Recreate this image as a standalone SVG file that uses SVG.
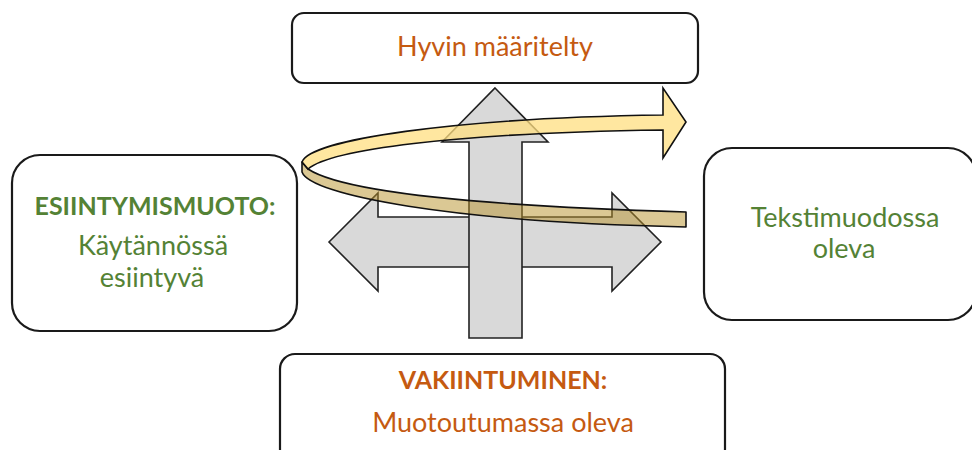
<svg xmlns="http://www.w3.org/2000/svg" width="972" height="450" viewBox="0 0 972 450">
<style>
.box{fill:#fff;stroke:#1a1a1a;stroke-width:2.2}
.t{font-family:Lato,"Open Sans","Liberation Sans",sans-serif;font-size:27px;text-anchor:middle}
.b{font-weight:bold;font-size:25px}
.or{fill:#C55A11}
.gr{fill:#548235}
.gray{fill:#D9D9D9;stroke:#222;stroke-width:1.6;stroke-linejoin:miter}
.back{fill:#B8922A;fill-opacity:0.5;stroke:#111;stroke-width:1.6;stroke-linejoin:round}
.front{fill:#FFDF80;fill-opacity:0.75;stroke:#111;stroke-width:1.6;stroke-linejoin:miter}
</style>
<rect width="972" height="450" fill="#fff"/>
<g id="node-top">
<rect class="box" x="292" y="13" width="406" height="70" rx="12"/>
<text class="t or" x="495" y="56">Hyvin määritelty</text>
</g>
<g id="node-left">
<rect class="box" x="12" y="155" width="285" height="176" rx="28"/>
<text class="t b gr" x="155" y="215">ESIINTYMISMUOTO:</text>
<text class="t gr" x="153" y="255">Käytännössä</text>
<text class="t gr" x="152" y="287">esiintyvä</text>
</g>
<g id="node-right">
<rect class="box" x="704" y="148" width="272" height="172" rx="28"/>
<text class="t gr" x="845" y="227">Tekstimuodossa</text>
<text class="t gr" x="844" y="258">oleva</text>
</g>
<g id="node-bottom">
<rect class="box" x="280" y="354" width="445" height="110" rx="15"/>
<text class="t b or" x="503" y="389">VAKIINTUMINEN:</text>
<text class="t or" x="503" y="432">Muotoutumassa oleva</text>
</g>
<g id="connectors">
<polygon class="gray" points="329,242 378,193 378,217 612,217 612,193 661,242 612,291 612,267 378,267 378,291"/>
<polygon class="gray" points="495,88 548,142 522,142 522,338 469,338 469,142 442,142"/>
<path class="back" d="M308,169 C340,190 450,205 686,212 L686,227 C450,222 310,195 302,172 L302,162 Z"/>
<path class="front" d="M302,162 C310,140 450,118 663,115 L663,88 L686,122 L663,158 L663,130 C450,133 330,150 308,169 Z"/>
</g>
</svg>
